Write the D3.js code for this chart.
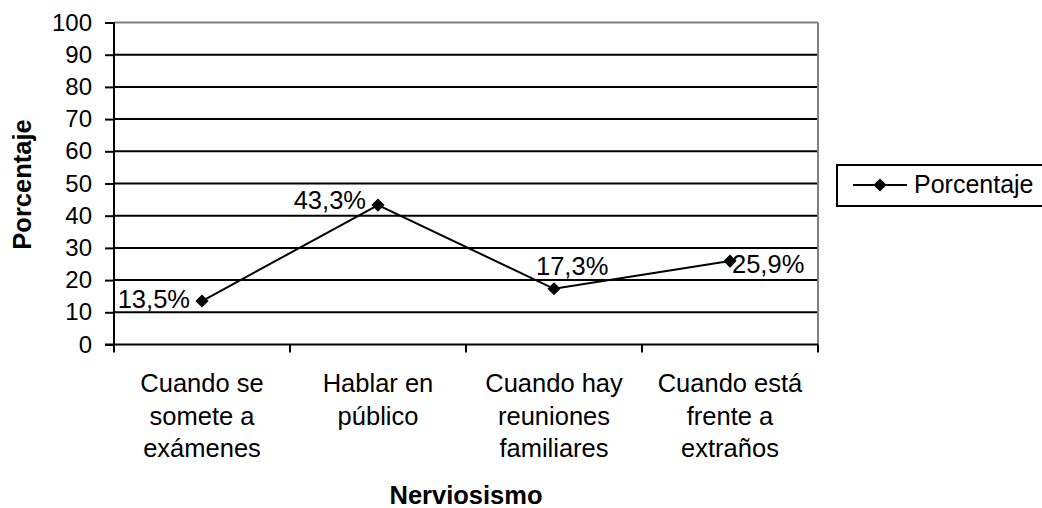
<!DOCTYPE html>
<html>
<head>
<meta charset="utf-8">
<script src="https://cdn.jsdelivr.net/npm/d3@7"></script>
<style>
  html, body { margin: 0; padding: 0; background: #fff; }
  svg { display: block; }
  text { font-family: "Liberation Sans", Arial, sans-serif; fill: #000; }
</style>
</head>
<body>
<svg id="chart" width="1042" height="508"></svg>
<script>
const categories = [
  ["Cuando se", "somete a", "exámenes"],
  ["Hablar en", "público"],
  ["Cuando hay", "reuniones", "familiares"],
  ["Cuando está", "frente a", "extraños"]
];
const values = [13.5, 43.3, 17.3, 25.9];
const valueLabels = ["13,5%", "43,3%", "17,3%", "25,9%"];
const yTicks = [0, 10, 20, 30, 40, 50, 60, 70, 80, 90, 100];
const seriesName = "Porcentaje";
const xTitle = "Nerviosismo";
const yTitle = "Porcentaje";

(function () {
const svg = d3.select("#chart");
const plotLeft = 114, plotRight = 818, plotTop = 22.5, plotBottom = 344.5;
const FS = 25.5;

const x = d3.scaleBand().domain(d3.range(categories.length)).range([plotLeft, plotRight]).padding(0);
const y = d3.scaleLinear().domain([0, 100]).range([plotBottom, plotTop]);
const cx = i => x(i) + x.bandwidth() / 2;

// gridlines
svg.append("g").selectAll("line").data(yTicks.filter(t => t > 0)).join("line")
  .attr("x1", plotLeft).attr("x2", plotRight)
  .attr("y1", d => y(d)).attr("y2", d => y(d))
  .attr("stroke", d => d === 100 ? "#808080" : "#000")
  .attr("stroke-width", 2);
// right border
svg.append("line").attr("x1", plotRight).attr("x2", plotRight).attr("y1", y(100)).attr("y2", y(0))
  .attr("stroke", "#808080").attr("stroke-width", 2);

// y axis
const yAxis = svg.append("g").attr("transform", `translate(${plotLeft},0)`)
  .call(d3.axisLeft(y).tickValues(yTicks).tickSize(9).tickPadding(13).tickFormat(d3.format("d")));
yAxis.select(".domain").attr("stroke", "#000").attr("stroke-width", 2).attr("d", `M0,${y(100)}V${y(0)}`);
yAxis.selectAll(".tick line").attr("stroke", "#000").attr("stroke-width", 2);
yAxis.selectAll(".tick text").attr("font-size", 24).attr("font-family", "Liberation Sans, Arial, sans-serif").attr("fill", "#000");

// x axis
const xTickPos = d3.range(categories.length + 1).map(i => plotLeft + i * x.bandwidth());
const xg = svg.append("g");
xg.append("line").attr("x1", plotLeft - 9).attr("x2", plotRight).attr("y1", plotBottom).attr("y2", plotBottom)
  .attr("stroke", "#000").attr("stroke-width", 2);
xg.selectAll("line.t").data(xTickPos).join("line").attr("class", "t")
  .attr("x1", d => d).attr("x2", d => d).attr("y1", plotBottom).attr("y2", plotBottom + 8)
  .attr("stroke", "#000").attr("stroke-width", 2);
const xl = xg.selectAll("text.cat").data(categories).join("text").attr("class", "cat")
  .attr("text-anchor", "middle").attr("font-size", FS);
xl.each(function(lines, i) {
  d3.select(this).selectAll("tspan").data(lines).join("tspan")
    .attr("x", cx(i)).attr("y", (d, j) => 392 + j * 32.5).text(d => d);
});

// line
const line = d3.line().x((d, i) => cx(i)).y(d => y(d));
svg.append("path").datum(values).attr("d", line).attr("fill", "none")
  .attr("stroke", "#000").attr("stroke-width", 2);
const diamond = d3.symbol().type(d3.symbolDiamond2).size(110);
svg.append("g").selectAll("path").data(values).join("path")
  .attr("d", diamond).attr("transform", (d, i) => `translate(${cx(i)},${y(d)})`).attr("fill", "#000");

// data labels
const labelOffsets = [
  { dx: -12, dy: 7, anchor: "end" },
  { dx: -12, dy: 4, anchor: "end" },
  { dx: -18, dy: -14, anchor: "start" },
  { dx: 2, dy: 12, anchor: "start" }
];
svg.append("g").selectAll("text").data(values).join("text")
  .attr("x", (d, i) => cx(i) + labelOffsets[i].dx)
  .attr("y", (d, i) => y(d) + labelOffsets[i].dy)
  .attr("text-anchor", (d, i) => labelOffsets[i].anchor)
  .attr("font-size", FS).text((d, i) => valueLabels[i]);

// axis titles
svg.append("text").attr("x", 466).attr("y", 504).attr("text-anchor", "middle")
  .attr("font-size", FS).attr("font-weight", "bold").text(xTitle);
svg.append("text").attr("transform", "translate(31,184.5) rotate(-90)").attr("text-anchor", "middle")
  .attr("font-size", FS).attr("font-weight", "bold").text(yTitle);

// legend
const lg = svg.append("g");
lg.append("rect").attr("x", 837).attr("y", 165).attr("width", 215).attr("height", 41)
  .attr("fill", "#fff").attr("stroke", "#000").attr("stroke-width", 2);
lg.append("line").attr("x1", 853).attr("x2", 907).attr("y1", 185).attr("y2", 185)
  .attr("stroke", "#000").attr("stroke-width", 2);
lg.append("path").attr("d", diamond).attr("transform", "translate(880,185)").attr("fill", "#000");
lg.append("text").attr("x", 914).attr("y", 193).attr("font-size", 25).text(seriesName);
})();
</script>
</body>
</html>
